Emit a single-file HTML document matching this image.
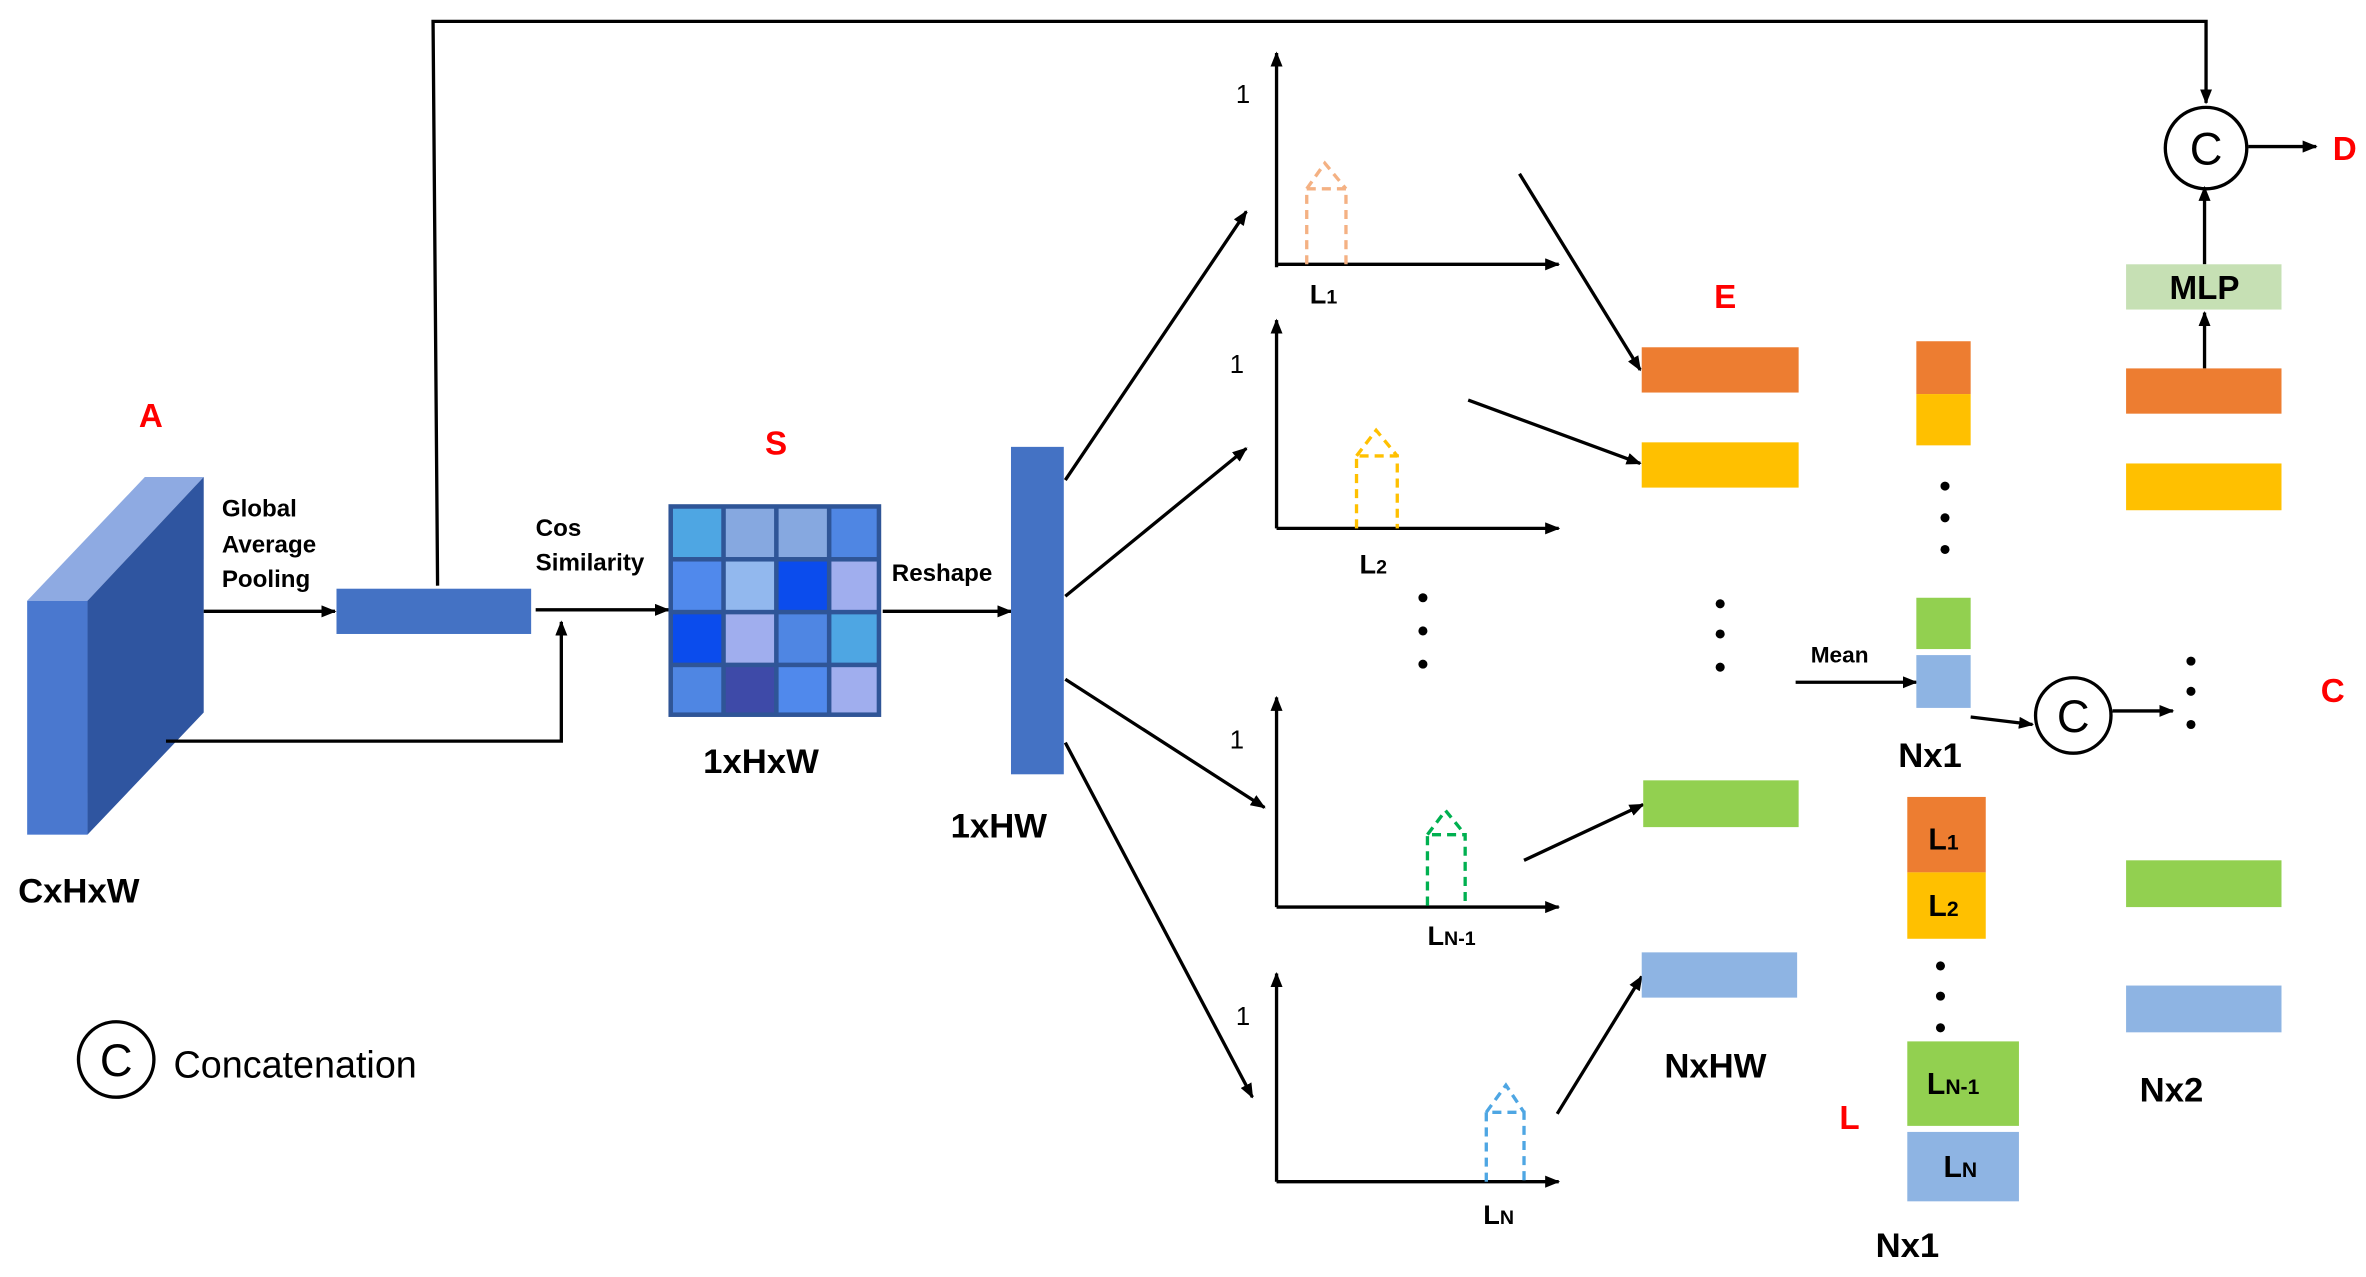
<!DOCTYPE html>
<html><head><meta charset="utf-8"><style>html,body{margin:0;padding:0;background:#fff}svg{display:block}text{font-family:"Liberation Sans",sans-serif}</style></head><body>
<svg width="2366" height="1277" viewBox="0 0 1568 846" xmlns="http://www.w3.org/2000/svg">
<defs><marker id="a" markerWidth="10" markerHeight="8" refX="9" refY="4" orient="auto" markerUnits="userSpaceOnUse"><path d="M0,0 L10,4 L0,8 z" fill="#000"/></marker></defs>
<g stroke="#000" stroke-width="2.2" fill="none">
<!-- cube -->
</g>
<polygon points="18,398 96,316 135,316 58,398" fill="#8eaae2"/>
<polygon points="58,398 135,316 135,472 58,553" fill="#2f55a0"/>
<rect x="18" y="398" width="40" height="155" fill="#4a78cf"/>
<g font-weight="bold" font-size="16">
<text x="147" y="342">Global</text><text x="147" y="366">Average</text><text x="147" y="389">Pooling</text>
<text x="355" y="355">Cos</text><text x="355" y="378">Similarity</text>
<text x="591" y="385">Reshape</text>
<text x="1200" y="439" font-size="15">Mean</text>
</g>
<g font-weight="bold" font-size="23">
<text x="12" y="598">CxHxW</text><text x="466" y="512">1xHxW</text><text x="630" y="555">1xHW</text>
<text x="1103" y="714">NxHW</text><text x="1258" y="508">Nx1</text><text x="1418" y="730">Nx2</text><text x="1243" y="833">Nx1</text>
</g>
<g fill="#f00" font-weight="bold" font-size="22">
<text x="92" y="283">A</text><text x="507" y="301">S</text><text x="1136" y="204">E</text><text x="1538" y="465">C</text><text x="1546" y="106">D</text><text x="1219" y="748">L</text>
</g>
<g stroke="#000" stroke-width="2.2" fill="none">
<line x1="135" y1="405" x2="222" y2="405" marker-end="url(#a)"/>
<polyline points="290,388 287,14 1462,14 1462,68" marker-end="url(#a)"/>
<polyline points="110,491 372,491 372,412" marker-end="url(#a)"/>
<line x1="355" y1="404" x2="443" y2="404" marker-end="url(#a)"/>
<line x1="585" y1="405" x2="670" y2="405" marker-end="url(#a)"/>
<line x1="706" y1="318" x2="826" y2="140" marker-end="url(#a)"/>
<line x1="706" y1="395" x2="826" y2="297" marker-end="url(#a)"/>
<line x1="706" y1="450" x2="838" y2="535" marker-end="url(#a)"/>
<line x1="706" y1="492" x2="830" y2="727" marker-end="url(#a)"/>
<polyline points="846,177 846,35" marker-end="url(#a)"/><line x1="846" y1="175" x2="1033" y2="175" marker-end="url(#a)"/>
<polyline points="846,350 846,212" marker-end="url(#a)"/><line x1="846" y1="350" x2="1033" y2="350" marker-end="url(#a)"/>
<polyline points="846,601 846,462" marker-end="url(#a)"/><line x1="846" y1="601" x2="1033" y2="601" marker-end="url(#a)"/>
<polyline points="846,783 846,645" marker-end="url(#a)"/><line x1="846" y1="783" x2="1033" y2="783" marker-end="url(#a)"/>
<line x1="1007" y1="115" x2="1087" y2="245" marker-end="url(#a)"/>
<line x1="973" y1="265" x2="1087" y2="307" marker-end="url(#a)"/>
<line x1="1010" y1="570" x2="1089" y2="533" marker-end="url(#a)"/>
<line x1="1032" y1="738" x2="1088" y2="647" marker-end="url(#a)"/>
<line x1="1190" y1="452" x2="1270" y2="452" marker-end="url(#a)"/>
<line x1="1306" y1="475" x2="1347" y2="480" marker-end="url(#a)"/>
<line x1="1400" y1="471" x2="1440" y2="471" marker-end="url(#a)"/>
<line x1="1461" y1="244" x2="1461" y2="207" marker-end="url(#a)"/>
<line x1="1461" y1="175" x2="1461" y2="124" marker-end="url(#a)"/>
<line x1="1490" y1="97" x2="1535" y2="97" marker-end="url(#a)"/>
<circle cx="1374" cy="474" r="25"/><circle cx="1462" cy="98" r="27"/><circle cx="77" cy="702" r="25"/>
</g>
<g font-size="30" text-anchor="middle"><text x="1374" y="485">C</text><text x="1462" y="109">C</text><text x="77" y="713">C</text></g>
<text x="115" y="714" font-size="25">Concatenation</text>
<rect x="223" y="390" width="129" height="30" fill="#4472c4"/>
<rect x="670" y="296" width="35" height="217" fill="#4472c4"/>
<!-- matrix -->
<rect x="443" y="334" width="141" height="141" fill="#2f5597"/>
<g>
<rect x="446" y="337" width="32" height="32" fill="#4ea6e3"/><rect x="481" y="337" width="32" height="32" fill="#86a8e0"/><rect x="516" y="337" width="32" height="32" fill="#86a8e0"/><rect x="551" y="337" width="30" height="32" fill="#4f86e3"/>
<rect x="446" y="372" width="32" height="32" fill="#5089ec"/><rect x="481" y="372" width="32" height="32" fill="#92b8ee"/><rect x="516" y="372" width="32" height="32" fill="#0b4ced"/><rect x="551" y="372" width="30" height="32" fill="#a0aeee"/>
<rect x="446" y="407" width="32" height="32" fill="#0b4ced"/><rect x="481" y="407" width="32" height="32" fill="#a0aeee"/><rect x="516" y="407" width="32" height="32" fill="#4f86e3"/><rect x="551" y="407" width="30" height="32" fill="#4ea6e3"/>
<rect x="446" y="442" width="32" height="30" fill="#4f86e3"/><rect x="481" y="442" width="32" height="30" fill="#3e4aa8"/><rect x="516" y="442" width="32" height="30" fill="#5089ec"/><rect x="551" y="442" width="30" height="30" fill="#a0aeee"/>
</g>
<!-- peaks -->
<g fill="none" stroke-width="2.2" stroke-dasharray="6,4">
<path d="M866,175 V125 H892 V175 M866,125 L878,108 L892,125" stroke="#f4b183"/>
<path d="M899,350 V302 H926 V350 M899,302 L912,285 L926,302" stroke="#ffc000"/>
<path d="M946,600 V553 H971 V600 M946,553 L958,537 L971,553" stroke="#00b050"/>
<path d="M985,783 V737 H1010 V783 M985,737 L998,719 L1010,737" stroke="#4ea6e3"/>
</g>
<g font-size="17"><text x="819" y="68">1</text><text x="815" y="247">1</text><text x="815" y="496">1</text><text x="819" y="679">1</text></g>
<g font-weight="bold" font-size="18">
<text x="868" y="201">L<tspan font-size="13">1</tspan></text>
<text x="901" y="380">L<tspan font-size="13">2</tspan></text>
<text x="946" y="626">L<tspan font-size="13">N-1</tspan></text>
<text x="983" y="811">L<tspan font-size="13">N</tspan></text>
</g>
<!-- dots -->
<g fill="#000">
<circle cx="943" cy="396" r="3"/><circle cx="943" cy="418" r="3"/><circle cx="943" cy="440" r="3"/>
<circle cx="1140" cy="400" r="3"/><circle cx="1140" cy="420" r="3"/><circle cx="1140" cy="442" r="3"/>
<circle cx="1289" cy="322" r="3"/><circle cx="1289" cy="343" r="3"/><circle cx="1289" cy="364" r="3"/>
<circle cx="1452" cy="438" r="3"/><circle cx="1452" cy="458" r="3"/><circle cx="1452" cy="480" r="3"/>
<circle cx="1286" cy="640" r="3"/><circle cx="1286" cy="660" r="3"/><circle cx="1286" cy="681" r="3"/>
</g>
<!-- bars -->
<rect x="1088" y="230" width="104" height="30" fill="#ed7d31"/>
<rect x="1088" y="293" width="104" height="30" fill="#ffc000"/>
<rect x="1089" y="517" width="103" height="31" fill="#92d050"/>
<rect x="1088" y="631" width="103" height="30" fill="#8eb4e3"/>
<rect x="1270" y="226" width="36" height="35" fill="#ed7d31"/>
<rect x="1270" y="261" width="36" height="34" fill="#ffc000"/>
<rect x="1270" y="396" width="36" height="34" fill="#92d050"/>
<rect x="1270" y="434" width="36" height="35" fill="#8eb4e3"/>
<rect x="1409" y="244" width="103" height="30" fill="#ed7d31"/>
<rect x="1409" y="307" width="103" height="31" fill="#ffc000"/>
<rect x="1409" y="570" width="103" height="31" fill="#92d050"/>
<rect x="1409" y="653" width="103" height="31" fill="#8eb4e3"/>
<rect x="1409" y="175" width="103" height="30" fill="#c6e0b4"/>
<text x="1461" y="198" font-size="22" font-weight="bold" text-anchor="middle">MLP</text>
<rect x="1264" y="528" width="52" height="50" fill="#ed7d31"/>
<rect x="1264" y="578" width="52" height="44" fill="#ffc000"/>
<rect x="1264" y="690" width="74" height="56" fill="#92d050"/>
<rect x="1264" y="750" width="74" height="46" fill="#8eb4e3"/>
<g font-weight="bold" font-size="20">
<text x="1278" y="563">L<tspan font-size="14">1</tspan></text>
<text x="1278" y="607">L<tspan font-size="14">2</tspan></text>
<text x="1277" y="725">L<tspan font-size="14">N-1</tspan></text>
<text x="1288" y="780">L<tspan font-size="14">N</tspan></text>
</g>
</svg>
</body></html>
